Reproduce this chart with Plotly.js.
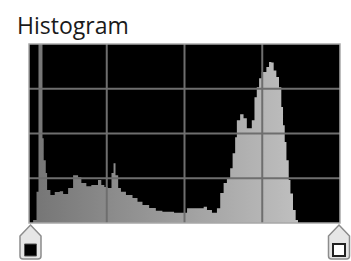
<!DOCTYPE html>
<html>
<head>
<meta charset="utf-8">
<script src="https://cdn.plot.ly/plotly-3.0.1.min.js"></script>
<style>html,body{margin:0;padding:0;background:#fff;}#chart{width:351px;height:261px;}</style>
</head>
<body>
<div id="chart"></div>
<script>
// Histogram: level where each step starts (0-255 scale) and its height (% of full scale)
const levels = [0, 3.4, 6.2, 7.8, 11.1, 12.1, 13.8, 14.9, 17.6, 21.2, 25.3, 28.1, 32.2, 36.3, 40.4, 43.1, 47.2, 51.3, 56.8, 59.5, 62, 64.7, 67.9, 69.6, 71.2, 73.4, 75.7, 79.8, 85.2, 89.3, 93.4, 98.9, 104.4, 109.8, 119.4, 130.1, 143.8, 146.5, 150.6, 154.7, 157.4, 160.2, 162.9, 165.6, 167.6, 169.7, 171.1, 173.8, 176.6, 179.3, 183.4, 185.6, 187.5, 189.4, 191.6, 195.4, 197.6, 199.5, 201.4, 203.6, 205.8, 207.7, 209.1, 210.5, 211.9, 213.8, 215.2, 217.3, 219.5, 221.4, 256];
const counts = [0, 1.7, 17.4, 100, 47.4, 35.1, 27.9, 18.4, 15.6, 17.3, 17.8, 16.2, 19.5, 26.7, 25.6, 22.3, 20.6, 21.2, 24.0, 21.2, 20.1, 19.5, 27.9, 33.4, 26.7, 19.5, 17.4, 15.6, 13.9, 11.9, 10.0, 8.4, 6.9, 6.3, 5.7, 8.2, 9.1, 7.2, 5.7, 8.2, 16.7, 22.3, 25.1, 30.6, 39.0, 47.9, 57.4, 60.7, 58.5, 52.9, 57.4, 70.2, 75.9, 80.8, 84.3, 87.1, 89.9, 89.7, 85.2, 81.5, 75.9, 64.8, 54.6, 45.3, 35.1, 24.0, 16.5, 7.2, 1.7, 0, 0];
const titleText = 'Histogram';

const W = 351, H = 261;
const M = {l: 29, r: 11, t: 44, b: 38};
const PW = W - M.l - M.r, PH = H - M.t - M.b;
const px2x = p => (p - M.l) / PW;
const py2y = p => (H - M.b - p) / PH;

const trace = {
  x: levels, y: counts, type: 'scatter', mode: 'lines',
  line: {shape: 'hv', width: 0, color: '#999'},
  fill: 'tozeroy',
  fillgradient: {type: 'horizontal', start: 0, stop: 256,
    colorscale: [[0, '#747474'], [1, '#cbcbcb']]},
  hoverinfo: 'skip'
};

const shapes = [];
const gridColor = '#6e6e6e';
for (let v = 64; v < 256; v += 64) {
  shapes.push({type: 'line', xref: 'x', yref: 'paper', x0: v, x1: v, y0: 0, y1: 1,
    line: {color: gridColor, width: 2}, layer: 'above'});
}
for (let v = 25; v < 100; v += 25) {
  shapes.push({type: 'line', xref: 'paper', yref: 'y', x0: 0, x1: 1, y0: v, y1: v,
    line: {color: gridColor, width: 2}, layer: 'above'});
}
// frame
shapes.push({type: 'rect', xref: 'paper', yref: 'paper', x0: 0, x1: 1, y0: 0, y1: 1,
  line: {color: '#a8a8a8', width: 1.5}, layer: 'above'});

function handle(cx, innerFill, innerLine, innerW) {
  const hw = 10.5, apex = 225, sh = 236, bot = 259, r = 3;
  const P = (x, y) => px2x(x).toFixed(5) + ',' + py2y(y).toFixed(5);
  const path = 'M' + P(cx, apex) + ' L' + P(cx + hw, sh) + ' L' + P(cx + hw, bot - r) +
    ' Q' + P(cx + hw, bot) + ' ' + P(cx + hw - r, bot) + ' L' + P(cx - hw + r, bot) +
    ' Q' + P(cx - hw, bot) + ' ' + P(cx - hw, bot - r) + ' L' + P(cx - hw, sh) + ' Z';
  shapes.push({type: 'path', xref: 'paper', yref: 'paper', path: path,
    fillcolor: '#e6e6e6', line: {color: '#8c8c8c', width: 1.5}, layer: 'above'});
  shapes.push({type: 'rect', xref: 'paper', yref: 'paper',
    x0: px2x(cx - 6), x1: px2x(cx + 6), y0: py2y(256), y1: py2y(244),
    fillcolor: innerFill, line: {color: innerLine, width: innerW}, layer: 'above'});
}
handle(30.5, '#000000', '#555555', 1);
handle(339, '#ffffff', '#222222', 2);

const layout = {
  width: W, height: H, margin: M,
  paper_bgcolor: '#ffffff', plot_bgcolor: '#000000',
  showlegend: false,
  title: {text: titleText, x: 17 / W, xref: 'container', xanchor: 'left',
    y: 1 - 26 / H, yref: 'container', yanchor: 'middle',
    font: {family: 'Open Sans, Noto Sans, sans-serif', size: 23, color: '#1a1a1a'}},
  xaxis: {range: [0, 256], showgrid: false, zeroline: false, showticklabels: false,
    ticks: '', showline: false, fixedrange: true},
  yaxis: {range: [0, 100], showgrid: false, zeroline: false, showticklabels: false,
    ticks: '', showline: false, fixedrange: true},
  shapes: shapes
};

Plotly.newPlot('chart', [trace], layout, {displayModeBar: false, staticPlot: true});
</script>
</body>
</html>
